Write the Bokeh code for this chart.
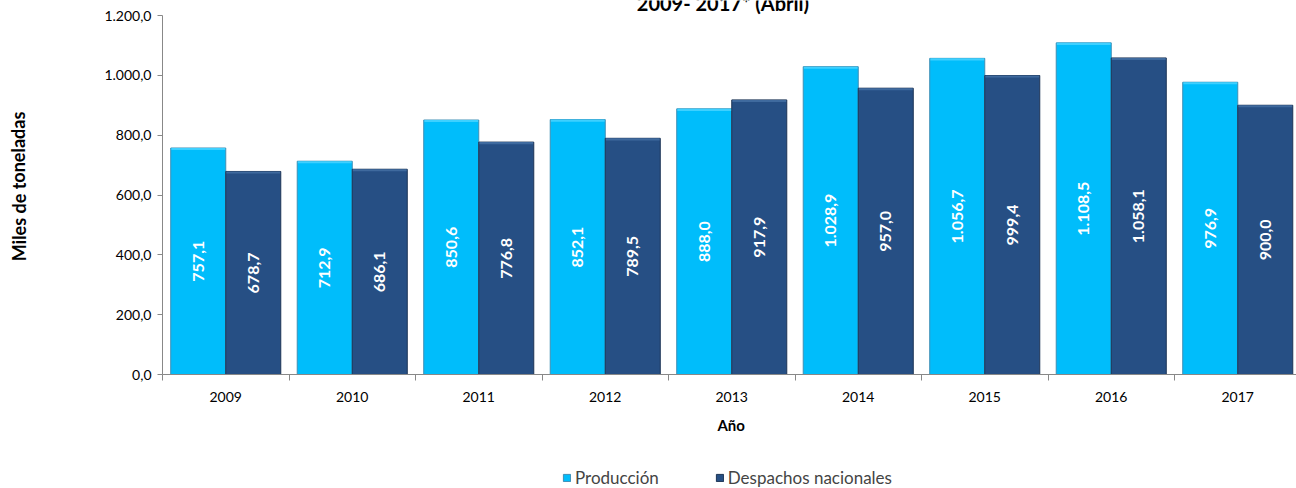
from bokeh.plotting import figure
from bokeh.models import (ColumnDataSource, FixedTicker, Label, Legend, LegendItem, Range1d)
from bokeh.core.properties import value
from bokeh.embed import file_html
from bokeh.resources import INLINE

# ---- data ----
years = ["2009", "2010", "2011", "2012", "2013", "2014", "2015", "2016", "2017"]
produccion = [757.1, 712.9, 850.6, 852.1, 888.0, 1028.9, 1056.7, 1108.5, 976.9]
despachos = [678.7, 686.1, 776.8, 789.5, 917.9, 957.0, 999.4, 1058.1, 900.0]
yticks = [0, 200, 400, 600, 800, 1000, 1200]
ytick_labels = ["0,0", "200,0", "400,0", "600,0", "800,0", "1.000,0", "1.200,0"]
series_names = ["Producción", "Despachos nacionales"]
title_text = "2009- 2017* (Abril)"
y_title = "Miles de toneladas"
x_title = "Año"

C_PROD = "#00BDFB"
C_DESP = "#264F84"
FONT = "Lato"


def fmt(v):
    s = f"{v:,.1f}"
    return s.replace(",", "X").replace(".", ",").replace("X", ".")


idx = list(range(len(years)))
bw = 0.435
prod_x = [i + 0.5 - bw / 2 for i in idx]
desp_x = [i + 0.5 + bw / 2 for i in idx]

src = ColumnDataSource(dict(
    px=prod_x, dx=desp_x, prod=produccion, desp=despachos,
    pmid=[v / 2 for v in produccion], dmid=[v / 2 for v in despachos],
    plab=[fmt(v) for v in produccion], dlab=[fmt(v) for v in despachos],
    ptop_lo=[v - 7 for v in produccion], dtop_lo=[v - 7 for v in despachos],
))

# frame spans the full canvas; value 0 at 374 px, 1200 at 15 px; category 0 starts at 162 px
PPU = 359 / 1200
PPC = 126.5
p = figure(width=1296, height=488, output_backend="svg", toolbar_location=None,
           x_range=Range1d(-162 / PPC, 1134 / PPC),
           y_range=Range1d(-114 / PPU, 374 / PPU),
           min_border_left=0, min_border_right=0, min_border_top=0,
           min_border_bottom=0)
p.outline_line_color = None
p.xgrid.visible = False
p.ygrid.visible = False
p.background_fill_color = "white"
p.border_fill_color = "white"

r_prod = p.vbar(x="px", top="prod", bottom=0, width=bw, source=src,
                fill_color=C_PROD, line_color="#3f8fb5", line_width=1)
r_desp = p.vbar(x="dx", top="desp", bottom=0, width=bw, source=src,
                fill_color=C_DESP, line_color="#1d3556", line_width=1)
# top bevel highlight
p.vbar(x="px", top="prod", bottom="ptop_lo", width=bw - 0.01, source=src,
       fill_color="#3ed0ff", line_color=None)
p.vbar(x="dx", top="desp", bottom="dtop_lo", width=bw - 0.01, source=src,
       fill_color="#3f6a9e", line_color=None)

p.text(x="px", y="pmid", text="plab", source=src, angle=1.5708,
       text_align="center", text_baseline="middle", text_color="white",
       text_font=value(FONT), text_font_style="bold", text_font_size="16px")
p.text(x="dx", y="dmid", text="dlab", source=src, angle=1.5708,
       text_align="center", text_baseline="middle", text_color="white",
       text_font=value(FONT), text_font_style="bold", text_font_size="16px")

# x axis: labels at centers, ticks at boundaries, drawn at y = 0
xa = p.xaxis[0]
xa.fixed_location = 0
xa.bounds = (0, len(years))
xa.ticker = FixedTicker(ticks=[i + 0.5 for i in idx], minor_ticks=list(range(len(years) + 1)))
xa.major_label_overrides = {i + 0.5: y for i, y in zip(idx, years)}
xa.major_tick_out = 0
xa.major_tick_in = 0
xa.minor_tick_out = 6
xa.minor_tick_in = 0
xa.minor_tick_line_color = "#888888"
xa.axis_line_color = "#888888"
xa.major_label_text_font = FONT
xa.major_label_text_font_size = "14px"
xa.major_label_text_color = "black"
xa.major_label_standoff = 11

ya = p.yaxis[0]
ya.fixed_location = 0
ya.ticker = FixedTicker(ticks=yticks, minor_ticks=[])
ya.major_label_overrides = {t: l for t, l in zip(yticks, ytick_labels)}
ya.bounds = (0, 1200)
ya.major_tick_out = 5
ya.major_tick_in = 0
ya.major_tick_line_color = "#888888"
ya.axis_line_color = "#888888"
ya.major_label_text_font = FONT
ya.major_label_text_font_size = "14px"
ya.major_label_text_color = "black"
ya.major_label_standoff = 6

title = Label(x=4.43, y=1242, text=title_text, text_align="center",
              text_baseline="alphabetic", text_font=FONT, text_font_style="bold",
              text_font_size="20px", text_color="black")
p.add_layout(title)

ylab = Label(x=-144 / PPC, y=188 / PPU, text=y_title, angle=1.5708,
             text_align="center", text_baseline="middle", text_font=FONT,
             text_font_style="bold", text_font_size="18px", text_color="black")
p.add_layout(ylab)

xlab = Label(x=568.7 / PPC, y=-50 / PPU, text=x_title,
             text_align="center", text_baseline="middle", text_font=FONT,
             text_font_style="bold", text_font_size="15px", text_color="black")
p.add_layout(xlab)

legend = Legend(items=[LegendItem(label=series_names[0], renderers=[r_prod]),
                       LegendItem(label=series_names[1], renderers=[r_desp])],
                orientation="horizontal", location=(562, 0),
                glyph_width=9, glyph_height=9, label_standoff=4, spacing=56,
                padding=0, margin=0, border_line_color=None,
                background_fill_alpha=0,
                label_text_font=FONT, label_text_font_size="17px",
                label_height=15)
p.add_layout(legend, "center")

open("out.html", "w").write(file_html(p, INLINE))
